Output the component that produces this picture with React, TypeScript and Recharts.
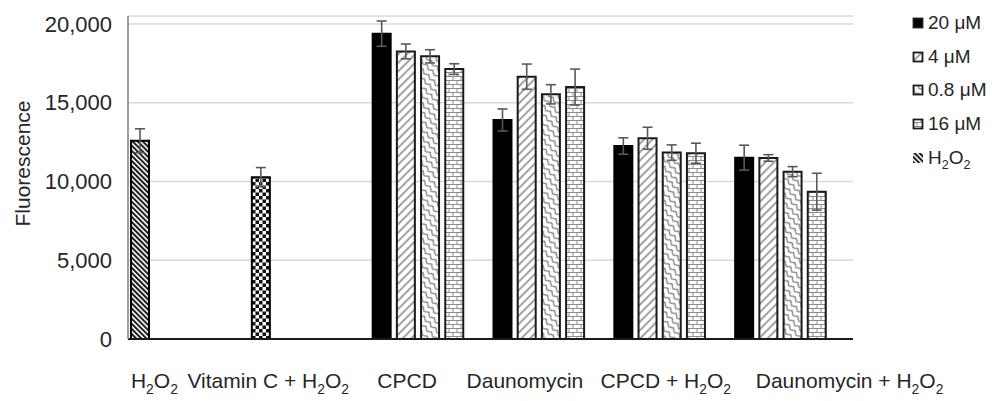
import React from 'react';
import { BarChart, Bar, XAxis, YAxis, CartesianGrid, ErrorBar, Cell } from 'recharts';

const FONT = 'Arial, "Liberation Sans", sans-serif';
const TEXT = '#262626';

// categories along x
const CATEGORIES = ['H2O2', 'Vitamin C + H2O2', 'CPCD', 'Daunomycin', 'CPCD + H2O2', 'Daunomycin + H2O2'];

// fluorescence per concentration (H2O2 / Vitamin C controls sit in the first slot)
const UM20 = [12580, 10270, 19380, 13900, 12250, 11510];
const UM20_ERR = [760, 610, 800, 700, 520, 790];
const UM4 = [null, null, 18250, 16650, 12740, 11490];
const UM4_ERR = [null, null, 470, 800, 700, 210];
const UM08 = [null, null, 17940, 15530, 11830, 10620];
const UM08_ERR = [null, null, 420, 610, 490, 320];
const UM16 = [null, null, 17130, 15990, 11790, 9350];
const UM16_ERR = [null, null, 340, 1140, 635, 1170];
const H2O2 = [null, null, null, null, null, null];

const Y_TICKS = [0, 5000, 10000, 15000, 20000];
const LEGEND = ['20 μM', '4 μM', '0.8 μM', '16 μM', 'H2O2'];

const data = CATEGORIES.map((name, i) => ({
    name,
    u20: UM20[i], u20e: UM20_ERR[i],
    u4: UM4[i], u4e: UM4_ERR[i],
    u08: UM08[i], u08e: UM08_ERR[i],
    u16: UM16[i], u16e: UM16_ERR[i],
    h: H2O2[i],
}));

// control bars in the first slot get their own fill
const firstSlotFill = (name: string) => {
    if (name === 'H2O2') return 'url(#pDense)';
    if (name.startsWith('Vitamin')) return 'url(#pChecker)';
    return '#000';
};

// label offsets relative to the category centre (labels were placed by hand in the original)
const LABEL_DX = [-34, -41, -23, -26, -6, 57];

// renders text with H2O2 as H₂O₂ using tspans
function chem(label: string, fs: number) {
    const out: React.ReactNode[] = [];
    const parts = label.split('H2O2');
    const sub = fs * 0.66;
    const shift = fs * 0.28;
    parts.forEach((p, i) => {
        if (p) out.push(<tspan key={'t' + i}>{p}</tspan>);
        if (i < parts.length - 1) {
            out.push(
                <tspan key={'h' + i}>H</tspan>,
                <tspan key={'a' + i} fontSize={sub} dy={shift}>2</tspan>,
                <tspan key={'o' + i} dy={-shift}>O</tspan>,
                <tspan key={'b' + i} fontSize={sub} dy={shift}>2</tspan>,
            );
            if (i < parts.length - 2 || parts[i + 1]) out.push(<tspan key={'r' + i} dy={-shift}>{''}</tspan>);
        }
    });
    return out;
}

const XTick = ({ x, y, payload, index }: any) => (
    <text
        x={x + LABEL_DX[index ?? payload.index]}
        y={y + 41}
        textAnchor="middle"
        fontSize={21}
        fontFamily={FONT}
        fill={TEXT}
    >
        {chem(payload.value, 21)}
    </text>
);

const YTitle = ({ viewBox }: any) => {
    const cx = viewBox.x + 22;
    const cy = viewBox.y + viewBox.height / 2 - 14;
    return (
        <text
            x={cx}
            y={cy}
            transform={`rotate(-90, ${cx}, ${cy})`}
            textAnchor="middle"
            dominantBaseline="central"
            fontSize={21}
            fontFamily={FONT}
            fill={TEXT}
        >
            Fluorescence
        </text>
    );
};

const LegendIcon = ({ i }: { i: number }) => {
    const fills = ['#000', 'url(#p4)', 'url(#p08)', 'url(#p16)', 'url(#pDense)'];
    return (
        <svg width={12} height={12} style={{ marginRight: 4 }}>
            {i === 4 ? (
                <rect x={1} y={1} width={10} height={10} fill={fills[i]} />
            ) : (
                <rect x={1.5} y={1.5} width={9} height={9} fill={fills[i]} stroke="#1a1a1a" strokeWidth={1.8} />
            )}
        </svg>
    );
};

export default function App() {
    return (
        <div style={{ position: 'absolute', left: 0, top: 0, width: 992, height: 401, background: '#fff' }}>
            <BarChart
                width={992}
                height={401}
                data={data}
                margin={{ top: 16, right: 139, bottom: 0, left: 0 }}
                barSize={18}
                barGap={6.2}
            >
                <defs>
                    <pattern id="p4" width="6" height="6" patternUnits="userSpaceOnUse" patternTransform="rotate(45)">
                        <rect width="6" height="6" fill="#fff" />
                        <line x1="2" y1="0" x2="2" y2="6" stroke="#8c8c8c" strokeWidth="1.6" />
                    </pattern>
                    <pattern id="p08" width="8" height="6" patternUnits="userSpaceOnUse" patternTransform="rotate(45)">
                        <rect width="8" height="6" fill="#fff" />
                        <path d="M0 4.5 L4 1.5 L8 4.5" stroke="#7a7a7a" strokeWidth="1.3" fill="none" />
                    </pattern>
                    <pattern id="p16" width="8" height="8" patternUnits="userSpaceOnUse">
                        <rect width="8" height="8" fill="#fff" />
                        <path d="M0 0.5 H8 M0 4.5 H8 M1 0.5 V4.5 M5 4.5 V8.5" stroke="#8c8c8c" strokeWidth="1" fill="none" />
                    </pattern>
                    <pattern id="pDense" width="3.6" height="3.6" patternUnits="userSpaceOnUse" patternTransform="rotate(-45)">
                        <rect width="3.6" height="3.6" fill="#fff" />
                        <line x1="1" y1="0" x2="1" y2="3.6" stroke="#1a1a1a" strokeWidth="2" />
                    </pattern>
                    <pattern id="pChecker" width="7" height="7" patternUnits="userSpaceOnUse">
                        <rect width="7" height="7" fill="#fff" />
                        <rect width="3.5" height="3.5" fill="#111" />
                        <rect x="3.5" y="3.5" width="3.5" height="3.5" fill="#111" />
                    </pattern>
                </defs>
                <CartesianGrid vertical={false} stroke="#d9d9d9" strokeWidth={1.5} />
                <XAxis
                    dataKey="name"
                    height={62}
                    interval={0}
                    tickLine={false}
                    axisLine={{ stroke: '#1a1a1a', strokeWidth: 2 }}
                    tick={<XTick />}
                />
                <YAxis
                    width={128}
                    domain={[0, 20500]}
                    ticks={Y_TICKS}
                    tickLine={false}
                    tickMargin={10}
                    axisLine={{ stroke: '#7f7f7f', strokeWidth: 1.5 }}
                    tick={{ fontSize: 22, fill: TEXT, fontFamily: FONT }}
                    tickFormatter={(v) => v.toLocaleString('en-US')}
                    label={(p: any) => <YTitle {...p} />}
                />
                <Bar dataKey="u20" fill="#000" stroke="#000" strokeWidth={2} isAnimationActive={false}>
                    {data.map((d, i) => (
                        <Cell key={i} fill={firstSlotFill(d.name)} />
                    ))}
                    <ErrorBar dataKey="u20e" width={5} stroke="#595959" strokeWidth={1.6} />
                </Bar>
                <Bar dataKey="u4" fill="url(#p4)" stroke="#1a1a1a" strokeWidth={2} isAnimationActive={false}>
                    <ErrorBar dataKey="u4e" width={5} stroke="#595959" strokeWidth={1.6} />
                </Bar>
                <Bar dataKey="u08" fill="url(#p08)" stroke="#1a1a1a" strokeWidth={2} isAnimationActive={false}>
                    <ErrorBar dataKey="u08e" width={5} stroke="#595959" strokeWidth={1.6} />
                </Bar>
                <Bar dataKey="u16" fill="url(#p16)" stroke="#1a1a1a" strokeWidth={2} isAnimationActive={false}>
                    <ErrorBar dataKey="u16e" width={5} stroke="#595959" strokeWidth={1.6} />
                </Bar>
                <Bar dataKey="h" fill="url(#pDense)" isAnimationActive={false} />
            </BarChart>

            {/* legend */}
            <div style={{ position: 'absolute', left: 912, top: 6, fontFamily: FONT, fontSize: 19, color: TEXT }}>
                {LEGEND.map((l, i) => (
                    <div key={l} style={{ display: 'flex', alignItems: 'center', height: 33.7 }}>
                        <LegendIcon i={i} />
                        <svg width={70} height={28} style={{ overflow: 'visible' }}>
                            <text x={0} y={20} fontSize={19} fontFamily={FONT} fill={TEXT}>
                                {chem(l, 19)}
                            </text>
                        </svg>
                    </div>
                ))}
            </div>
        </div>
    );
}
